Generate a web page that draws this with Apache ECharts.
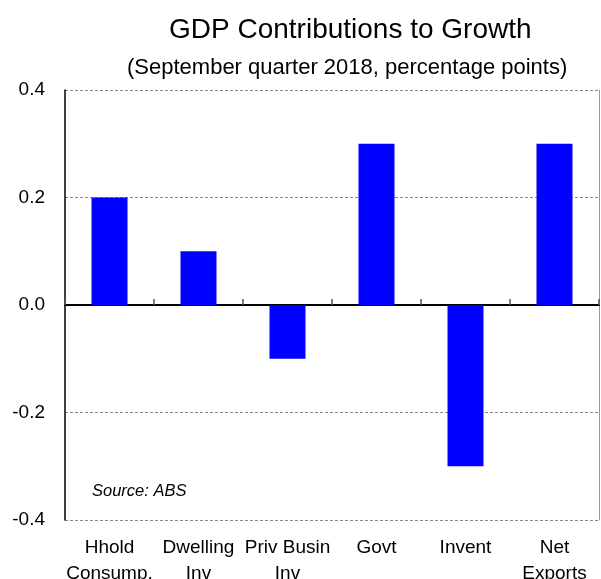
<!DOCTYPE html>
<html>
<head>
<meta charset="utf-8">
<script src="https://cdn.jsdelivr.net/npm/echarts@6/dist/echarts.min.js"></script>
<style>
  html, body { margin: 0; padding: 0; background: #fff; }
  #chart { width: 601px; height: 579px; }
</style>
</head>
<body>
<div id="chart"></div>
<script>
const categories = ['Hhold\nConsump.', 'Dwelling\nInv', 'Priv Busin\nInv', 'Govt', 'Invent', 'Net\nExports'];
const contributions = [0.2, 0.1, -0.1, 0.3, -0.3, 0.3];
const yTicks = { min: -0.4, max: 0.4, step: 0.2 };

const font = '"Liberation Sans", Arial, sans-serif';
const chart = echarts.init(document.getElementById('chart'));

chart.setOption({
  backgroundColor: '#fff',
  animation: false,
  textStyle: { fontFamily: font, color: '#000' },
  title: [
    {
      text: 'GDP Contributions to Growth',
      left: 164,
      top: 11,
      textStyle: { fontFamily: font, fontSize: 28, fontWeight: 'normal', color: '#000' }
    },
    {
      text: '(September quarter 2018, percentage points)',
      left: 122,
      top: 52,
      textStyle: { fontFamily: font, fontSize: 22, fontWeight: 'normal', color: '#000' }
    }
  ],
  grid: { left: 65, right: 2, top: 90, bottom: 59, containLabel: false, outerBoundsMode: 'none' },
  xAxis: [
    {
      type: 'category',
      data: categories,
      axisLine: { onZero: true, lineStyle: { color: '#000', width: 2 } },
      axisTick: { show: true, inside: true, length: 6, lineStyle: { color: '#555', width: 1.5 } },
      axisLabel: { show: false },
      splitLine: { show: false }
    },
    {
      type: 'category',
      data: categories,
      position: 'bottom',
      axisLine: { show: false, onZero: false },
      axisTick: { show: false },
      axisLabel: { fontFamily: font, fontSize: 19, lineHeight: 26, margin: 15, color: '#000', interval: 0 },
      splitLine: { show: false }
    }
  ],
  yAxis: [
    {
      type: 'value',
      min: yTicks.min,
      max: yTicks.max,
      interval: yTicks.step,
      axisLine: { show: true, lineStyle: { color: '#000', width: 1.5 } },
      axisTick: { show: false },
      axisLabel: { fontFamily: font, fontSize: 19, margin: 20, color: '#000', formatter: (v) => v.toFixed(1) },
      splitLine: { show: true, lineStyle: { color: '#888', type: [3, 2], width: 1 } }
    },
    {
      type: 'value',
      position: 'right',
      min: yTicks.min,
      max: yTicks.max,
      interval: yTicks.step,
      axisLine: { show: true, lineStyle: { color: '#999', width: 1 } },
      axisTick: { show: false },
      axisLabel: { show: false },
      splitLine: { show: false }
    }
  ],
  series: [
    {
      type: 'bar',
      xAxisIndex: 0,
      yAxisIndex: 0,
      data: contributions,
      barWidth: 36,
      itemStyle: { color: '#0000ff' }
    }
  ],
  graphic: [
    {
      type: 'text',
      left: 92,
      top: 483,
      style: { text: 'Source: ABS', font: 'italic 16.5px ' + font, fill: '#000' }
    }
  ]
});
</script>
</body>
</html>
